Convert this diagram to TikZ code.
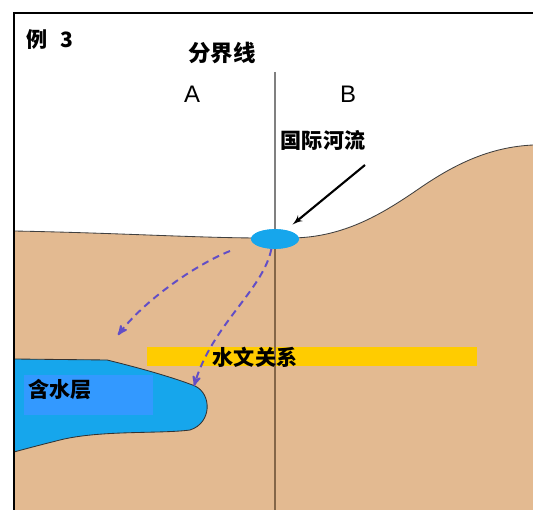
\documentclass[tikz,border=0pt]{standalone}
\usepackage{fontspec}
\setmainfont{Liberation Sans}
\newfontfamily\cjk{Noto Sans CJK SC}
\usetikzlibrary{arrows,positioning,shapes}

\definecolor{soil}{RGB}{227,186,145}
\definecolor{water}{RGB}{22,166,236}
\definecolor{lake}{RGB}{51,153,255}
\definecolor{band}{RGB}{255,204,0}
\definecolor{flow}{RGB}{98,78,198}
\definecolor{border}{RGB}{132,102,72}

\begin{document}
\begin{tikzpicture}
	[ x=0.025cm, y=-0.025cm,
		tag/.style={font=\cjk\bfseries\fontsize{15}{18}\selectfont,inner sep=0pt},
		side/.style={font=\fontsize{17}{20}\selectfont,inner sep=0pt},
		pond/.style={ellipse,fill=water,minimum width=34,minimum height=14,inner sep=0pt},
		flowArrow/.style={->,>=stealth',dashed,dash pattern=on 5pt off 3.5pt,line width=1.4pt,draw=flow},
		pointArrow/.style={-latex',line width=1.5pt,shorten >=6pt}]

	\useasboundingbox (0,0) rectangle (533,510);

	% ground and its surface
	\fill[soil] (14,231) .. controls (120,233) and (200,238) .. (262,238) -- (290,238)
		.. controls (345,238) and (385,212) .. (420,188)
		.. controls (455,164) and (490,147) .. (533,145)
		-- (533,510) -- (14,510) -- cycle;
	\draw[black!75,line width=0.6pt] (14,231) .. controls (120,233) and (200,238) .. (262,238) -- (290,238)
		.. controls (345,238) and (385,212) .. (420,188)
		.. controls (455,164) and (490,147) .. (533,145);

	% aquifer
	\filldraw[fill=water,draw=black!80,line width=0.6pt] (14,359) -- (107,360)
		.. controls (140,368) and (175,378) .. (195,386)
		.. controls (212,394) and (212,423) .. (190,430)
		.. controls (160,434) and (100,430) .. (60,440)
		.. controls (40,445) and (25,449) .. (14,452) -- cycle;
	\fill[lake] (24,375) rectangle (153,415);
	\node[tag,anchor=west] (aquifer) at (28,390) {含水层};

	% hydrological band
	\fill[band] (147,347) rectangle (477,366);

	% river and boundary
	\node[pond] (river) at (275,239) {};
	\draw[gray,line width=1pt] (275,72) -- (river.north);
	\draw[border,line width=1pt] (river.south) -- (275,510);
	\node[pond] at (river) {};

	\node[tag] (relation) at (255,357) {水文关系};

	% labels
	\node[tag,anchor=west] (example) at (26,40) {例\hspace{0.6em}3};
	\node[tag,font=\cjk\bfseries\fontsize{16}{19}\selectfont] (boundary) at (222,53) {分界线};
	\node[side] (sideA) at (192,94) {A};
	\node[side] (sideB) at (348,94) {B};
	\node[tag] (intl) at (323,140) {国际河流};

	% pointer to the river
	\coordinate (pointer) at (365,165);
	\draw[pointArrow] (pointer) -- (river);

	% seepage paths
	\coordinate (seepA) at (230,251);
	\coordinate (aimA) at (118,335);
	\coordinate (aimB) at (194,386);
	\draw[flowArrow] (seepA) .. controls (195,265) and (145,300) .. (aimA);
	\draw[flowArrow] (river.-110) .. controls (263,290) and (212,325) .. (aimB);

	% frame
	\draw[line width=1.2pt] (14,510) -- (14,13) -- (533,13);
\end{tikzpicture}
\end{document}
